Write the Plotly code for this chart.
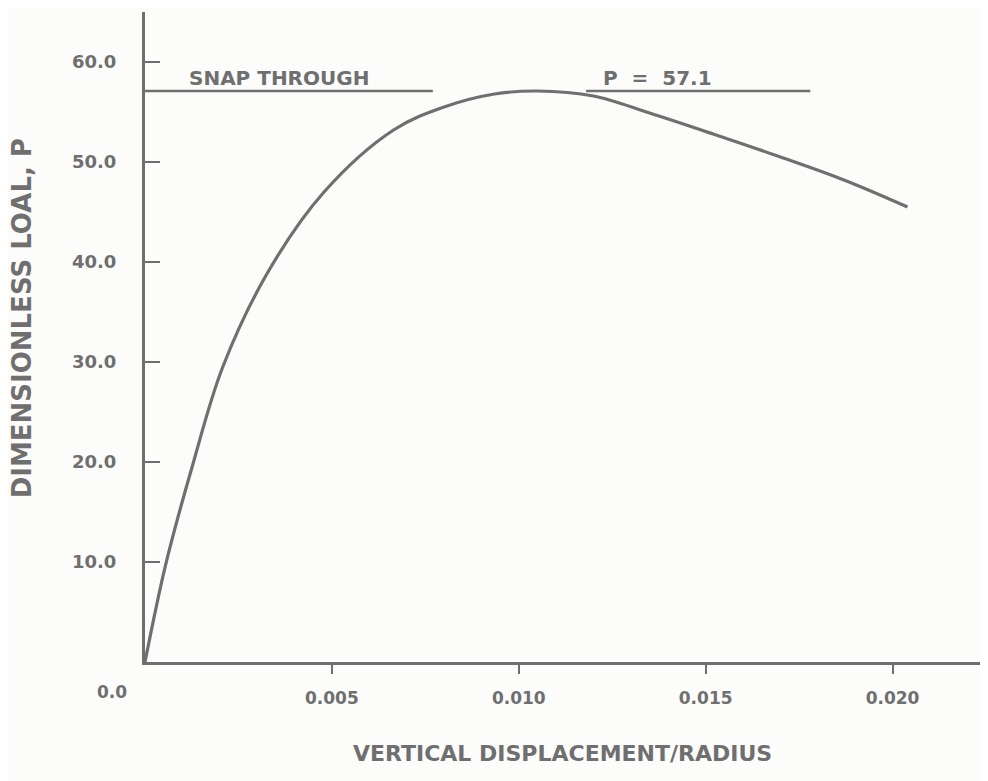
import plotly.graph_objects as go

# Data (tilt of the scan corrected)
disp = [0.0, 0.00055, 0.00126, 0.00208, 0.00329, 0.00479, 0.00665, 0.0080,
        0.00935, 0.0105, 0.0120, 0.0135, 0.0152, 0.0170, 0.0187, 0.0204]
load = [0.0, 9.7, 19.5, 29.5, 39.0, 47.0, 53.2, 55.5,
        56.8, 57.1, 56.6, 54.9, 52.8, 50.5, 48.2, 45.5]

snap_load = 57.1
snap_left = [0.0, 0.0077]
snap_right = [0.0118, 0.0178]

x_ticks = [0.005, 0.010, 0.015, 0.020]
x_labels = ["0.005", "0.010", "0.015", "0.020"]
y_ticks = [10, 20, 30, 40, 50, 60]
y_labels = ["10.0", "20.0", "30.0", "40.0", "50.0", "60.0"]

ink = "#6f6f6f"
font_fam = "DejaVu Sans, sans-serif"

fig = go.Figure()
fig.add_trace(go.Scatter(x=disp, y=load, mode="lines",
                         line=dict(color=ink, width=3.2, shape="spline", smoothing=1.0),
                         showlegend=False, hoverinfo="skip"))
fig.add_trace(go.Scatter(x=snap_left, y=[snap_load, snap_load], mode="lines",
                         line=dict(color=ink, width=2.5), showlegend=False, hoverinfo="skip"))
fig.add_trace(go.Scatter(x=snap_right, y=[snap_load, snap_load], mode="lines",
                         line=dict(color=ink, width=2.5), showlegend=False, hoverinfo="skip"))

fig.add_annotation(x=0.00358, y=snap_load, xref="x", yref="y", text="<b>SNAP THROUGH</b>",
                   showarrow=False, yanchor="bottom", yshift=-1,
                   font=dict(family=font_fam, size=20, color=ink))
fig.add_annotation(x=0.0137, y=snap_load, xref="x", yref="y", text="<b>P  =  57.1</b>",
                   showarrow=False, yanchor="bottom", yshift=-1,
                   font=dict(family=font_fam, size=20, color=ink))
fig.add_annotation(x=0, y=0, xref="x", yref="y", text="<b>0.0</b>",
                   showarrow=False, xanchor="right", yanchor="top", xshift=-16, yshift=-18,
                   font=dict(family=font_fam, size=17, color=ink))
fig.add_annotation(x=0.497, y=-0.14, xref="paper", yref="paper",
                   text="<b>VERTICAL DISPLACEMENT/RADIUS</b>", showarrow=False,
                   xanchor="center", yanchor="middle",
                   font=dict(family=font_fam, size=22, color=ink))
fig.add_annotation(x=-0.146, y=0.529, xref="paper", yref="paper",
                   text="<b>DIMENSIONLESS LOAL, P</b>", showarrow=False, textangle=-90,
                   xanchor="center", yanchor="middle",
                   font=dict(family=font_fam, size=26, color=ink))

fig.update_layout(
    width=980, height=773,
    margin=dict(l=137, r=2, t=4, b=119),
    paper_bgcolor="#fcfcfb", plot_bgcolor="#fcfcfb",
    font=dict(family=font_fam, size=16, color=ink),
)
fig.update_xaxes(
    range=[0, 0.0225], showgrid=False, zeroline=False,
    showline=True, linecolor=ink, linewidth=3,
    ticks="outside", ticklen=9, tickwidth=2, tickcolor=ink,
    tickvals=x_ticks, ticktext=["<b>%s</b>" % t for t in x_labels],
    ticklabelstandoff=10, tickfont=dict(size=17),
)
fig.update_yaxes(
    range=[0, 65], showgrid=False, zeroline=False,
    showline=True, linecolor=ink, linewidth=3,
    ticks="inside", ticklen=15, tickwidth=2, tickcolor=ink,
    tickvals=y_ticks, ticktext=["<b>%s</b>" % t for t in y_labels],
    ticklabelstandoff=22, tickfont=dict(size=18),
)

fig.write_html("out.html")
